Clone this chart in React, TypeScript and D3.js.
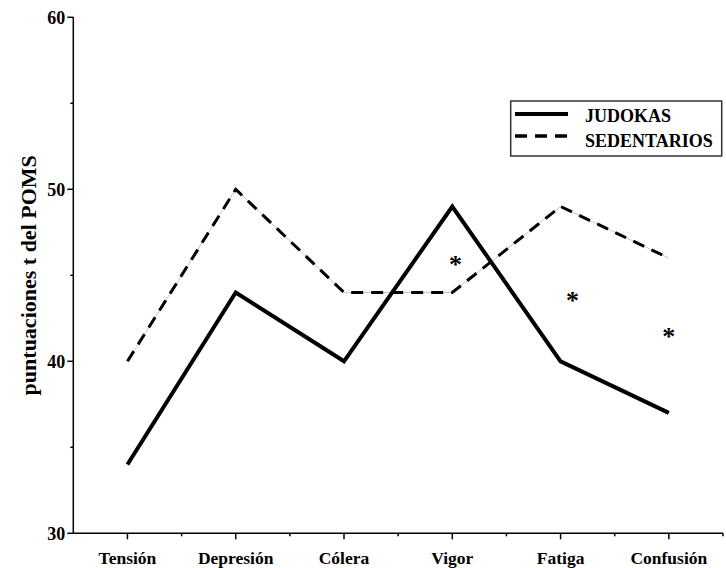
import React from 'react'
import * as d3 from 'd3'

const categories = ['Tensión', 'Depresión', 'Cólera', 'Vigor', 'Fatiga', 'Confusión']
const judokas = [34, 44, 40, 49, 40, 37]
const sedentarios = [40, 50, 44, 44, 49, 46]
const yTicks = [30, 40, 50, 60]
const yMinorTicks = [35, 45, 55]
// significance markers: position along category index, value
const starIndex = [3.03, 4.11, 5.0]
const starValue = [45.8, 43.7, 41.6]

const W = 726
const H = 568
const left = 73.3
const right = 723
const top = 17.3
const bottom = 533.3
const font = '"Liberation Serif", "Times New Roman", serif'

const App: React.FC = () => {
  const x = d3.scalePoint<string>().domain(categories).range([left, right]).padding(0.5)
  const step = x.step()
  const y = d3.scaleLinear().domain([30, 60]).range([bottom, top])
  const xi = d3.scaleLinear().domain([0, categories.length - 1])
    .range([x(categories[0])!, x(categories[categories.length - 1])!])

  const line = d3.line<number>()
    .x((_, i) => x(categories[i])!)
    .y(d => y(d))

  const minorX = d3.range(1, categories.length + 1).map(k => left + k * step)

  return (
    <svg width={W} height={H} style={{ position: 'absolute', left: 0, top: 0 }}
      fontFamily={font} fontWeight="bold">
      <rect width={W} height={H} fill="#fff" />

      {/* axes */}
      <line x1={left} x2={left} y1={top} y2={bottom} stroke="#000" strokeWidth={1.5} />
      <line x1={left} x2={right} y1={bottom} y2={bottom} stroke="#000" strokeWidth={1.5} />

      {yTicks.map(t => (
        <g key={t}>
          <line x1={left - 6} x2={left} y1={y(t)} y2={y(t)} stroke="#000" strokeWidth={1.5} />
          <text x={left - 8} y={y(t)} dy="0.35em" textAnchor="end" fontSize={18}>{t}</text>
        </g>
      ))}
      {yMinorTicks.map(t => (
        <line key={t} x1={left - 3} x2={left} y1={y(t)} y2={y(t)} stroke="#000" strokeWidth={1.5} />
      ))}

      {categories.map(c => (
        <g key={c}>
          <line x1={x(c)} x2={x(c)} y1={bottom} y2={bottom + 6} stroke="#000" strokeWidth={1.5} />
          <text x={x(c)} y={564} textAnchor="middle" fontSize={17.5}>{c}</text>
        </g>
      ))}
      {minorX.map(m => (
        <line key={m} x1={m} x2={m} y1={bottom} y2={bottom + 3} stroke="#000" strokeWidth={1.5} />
      ))}

      <text transform={`translate(36,${(top + bottom) / 2}) rotate(-90)`} textAnchor="middle"
        fontSize={22}>puntuaciones t del POMS</text>

      {/* series */}
      <path d={line(sedentarios)!} fill="none" stroke="#c8c8c8" strokeWidth={1} />
      <path d={line(sedentarios)!} fill="none" stroke="#000" strokeWidth={3}
        strokeDasharray="12 8" strokeLinejoin="miter" />
      <path d={line(judokas)!} fill="none" stroke="#000" strokeWidth={4} strokeLinejoin="miter" />

      {starIndex.map((s, i) => (
        <text key={i} x={xi(s)} y={y(starValue[i])} dy="0.45em" textAnchor="middle" fontSize={26}>*</text>
      ))}

      {/* legend */}
      <rect x={510.7} y={101} width={211} height={55} fill="#fff" stroke="#333" strokeWidth={1.5} />
      <line x1={515} x2={568} y1={114} y2={114} stroke="#000" strokeWidth={4} />
      <text x={585} y={122} fontSize={18}>JUDOKAS</text>
      <line x1={515} x2={568} y1={136} y2={136} stroke="#000" strokeWidth={3.3} strokeDasharray="12 8" />
      <text x={585} y={147} fontSize={18}>SEDENTARIOS</text>
    </svg>
  )
}

export default App
